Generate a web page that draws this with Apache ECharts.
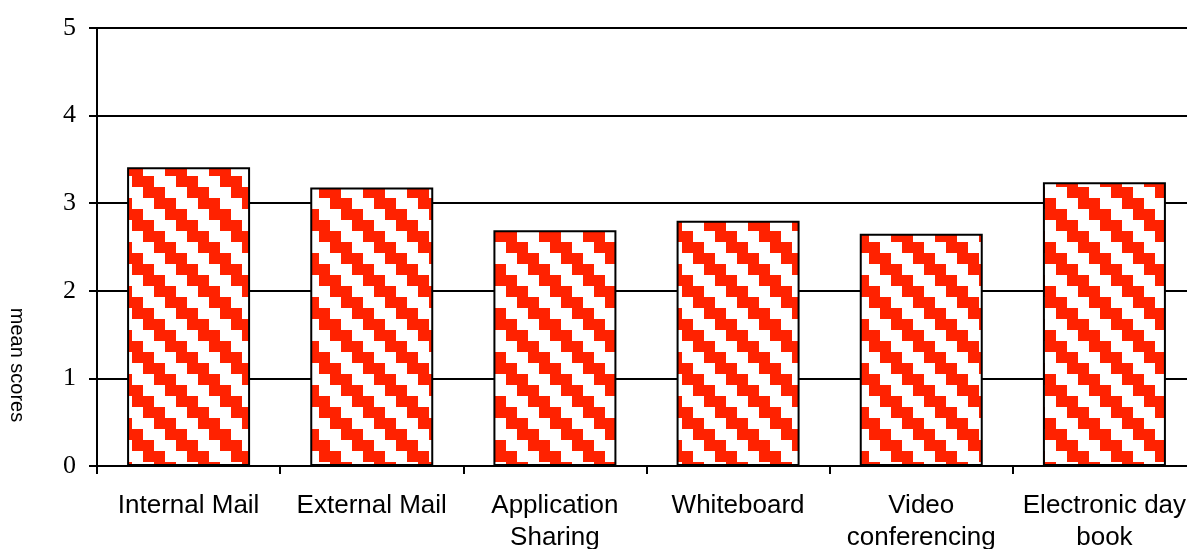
<!DOCTYPE html>
<html>
<head>
<meta charset="utf-8">
<script src="https://cdn.jsdelivr.net/npm/echarts@6/dist/echarts.min.js"></script>
<style>
  html, body { margin: 0; padding: 0; background: #fff; overflow: hidden; }
  #wrap { width: 1187px; height: 549px; overflow: hidden; position: relative; }
  #container { width: 1200px; height: 549px; position: absolute; left: 0; top: 0; }
</style>
</head>
<body>
<div id="wrap"><div id="container"></div></div>
<script>
var categories = ['Internal Mail', 'External Mail', 'Application\nSharing', 'Whiteboard', 'Video\nconferencing', 'Electronic day\nbook'];
var meanScores = [3.41, 3.18, 2.69, 2.80, 2.65, 3.24];
var yTicks = [0, 1, 2, 3, 4, 5];

// stair-step red / white diagonal fill
function makePattern() {
    var c = document.createElement('canvas');
    c.width = 44;
    c.height = 44;
    var ctx = c.getContext('2d');
    ctx.fillStyle = '#ffffff';
    ctx.fillRect(0, 0, 44, 44);
    ctx.fillStyle = '#ff2200';
    for (var r = 0; r < 4; r++) {
        var x = 11 * r;
        ctx.fillRect(x, 11 * r, 22, 11);
        if (x + 22 > 44) {
            ctx.fillRect(x - 44, 11 * r, 22, 11);
        }
    }
    return c;
}

var myChart = echarts.init(document.getElementById('container'));
var option = {
    animation: false,
    grid: { left: 97, right: 4, top: 28, bottom: 83, outerBoundsMode: 'none', containLabel: false },
    xAxis: {
        type: 'category',
        data: categories,
        axisLine: { lineStyle: { color: '#000', width: 2 } },
        axisTick: { show: true, length: 8, lineStyle: { color: '#000', width: 2 } },
        axisLabel: {
            interval: 0,
            margin: 24,
            color: '#000',
            fontFamily: 'Liberation Sans, Arial, sans-serif',
            fontSize: 26,
            lineHeight: 32
        }
    },
    yAxis: {
        type: 'value',
        min: yTicks[0],
        max: yTicks[yTicks.length - 1],
        interval: 1,
        axisLine: { show: true, lineStyle: { color: '#000', width: 2 } },
        axisTick: { show: true, inside: false, length: 8, lineStyle: { color: '#000', width: 2 } },
        splitLine: { show: true, lineStyle: { color: '#000', width: 2 } },
        axisLabel: {
            margin: 21,
            color: '#000',
            fontFamily: 'Liberation Serif, Times New Roman, serif',
            fontSize: 26
        }
    },
    graphic: [{
        type: 'text',
        x: 17,
        y: 365,
        rotation: -Math.PI / 2,
        style: {
            text: 'mean scores',
            fill: '#000',
            font: '20px "Liberation Sans", Arial, sans-serif',
            align: 'center',
            verticalAlign: 'middle'
        }
    }],
    series: [{
        type: 'bar',
        data: meanScores,
        barWidth: 123,
        itemStyle: {
            color: { image: makePattern(), repeat: 'repeat' },
            borderColor: '#000',
            borderWidth: 2
        }
    }]
};
myChart.setOption(option);
</script>
</body>
</html>
